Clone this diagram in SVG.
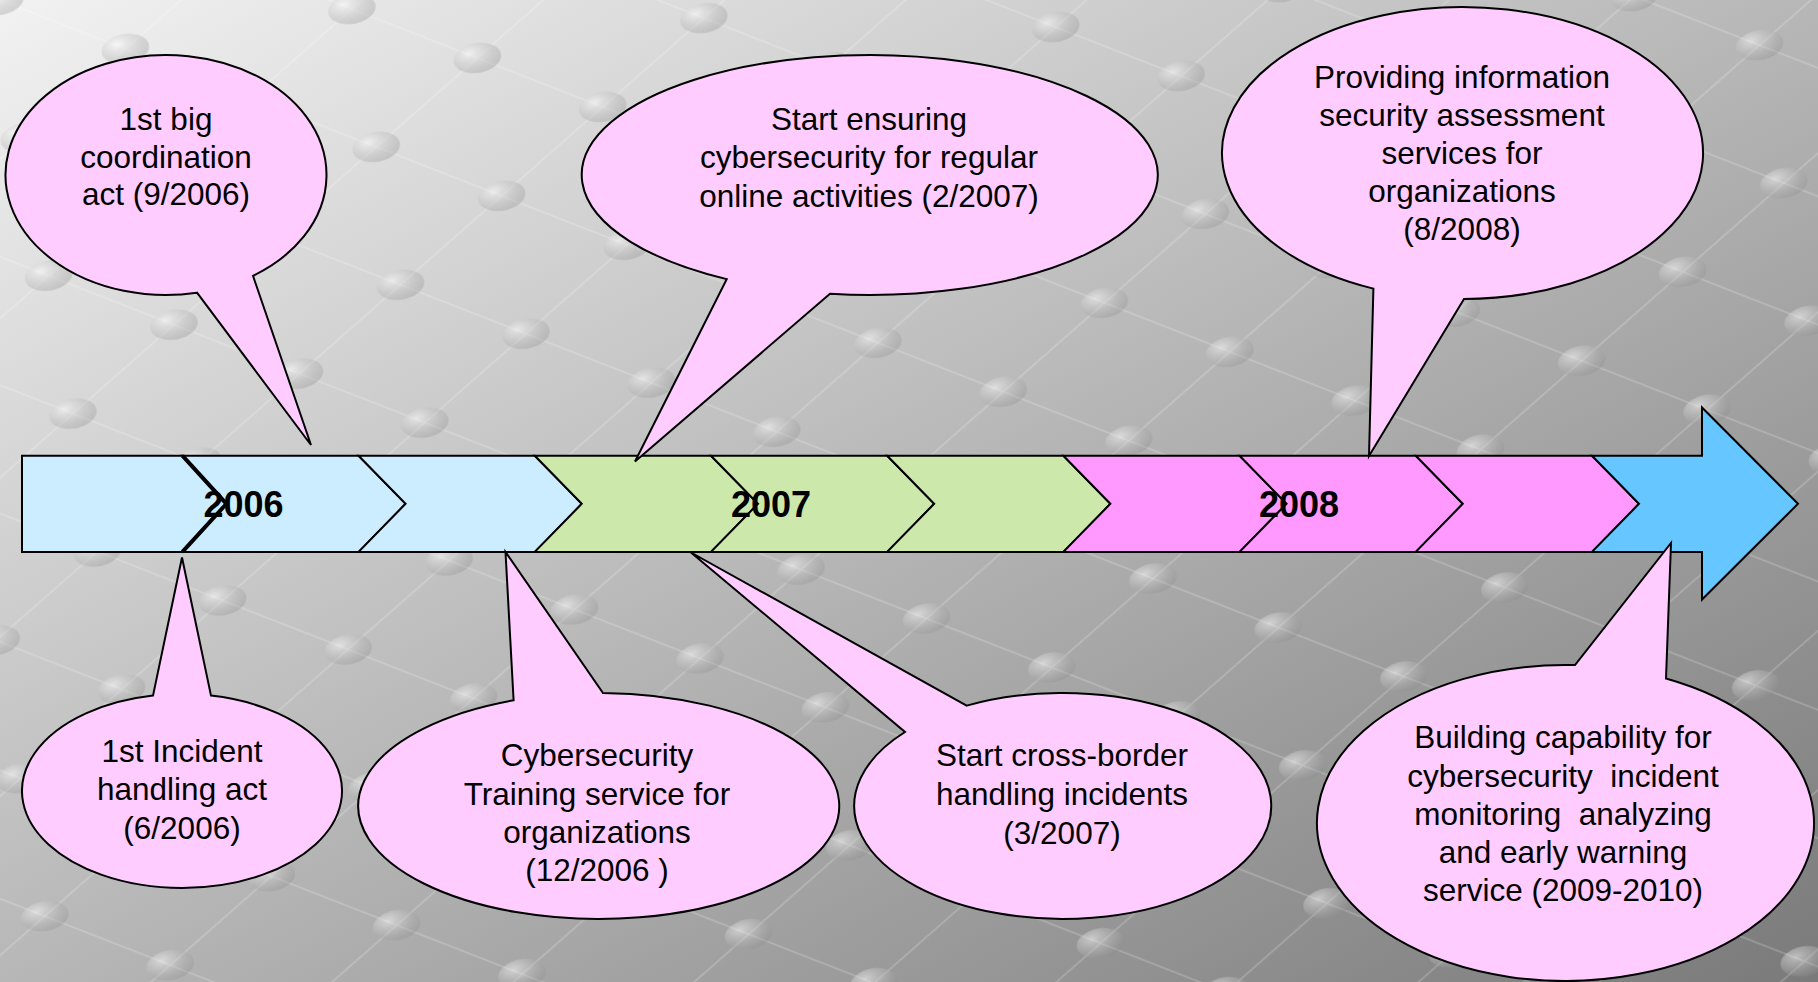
<svg xmlns="http://www.w3.org/2000/svg" width="1818" height="982" viewBox="0 0 1818 982">
  <defs>
    <linearGradient id="bg" x1="0" y1="0" x2="1" y2="1">
      <stop offset="0" stop-color="#f2f2f2"/>
      <stop offset="0.45" stop-color="#bdbdbd"/>
      <stop offset="1" stop-color="#7a7a7a"/>
    </linearGradient>
    <radialGradient id="dot" cx="0.35" cy="0.3" r="0.8">
      <stop offset="0" stop-color="#ffffff" stop-opacity="0.5"/>
      <stop offset="1" stop-color="#808080" stop-opacity="0.3"/>
    </radialGradient>
    <pattern id="lattice" patternUnits="userSpaceOnUse" width="230" height="140" patternTransform="rotate(-10)">
      <g stroke="#ffffff" stroke-opacity="0.22" stroke-width="1.5" fill="none">
        <line x1="0" y1="0" x2="230" y2="140"/>
        <line x1="230" y1="0" x2="0" y2="140"/>
      </g>
      <g fill="url(#dot)">
        <ellipse cx="0" cy="0" rx="24" ry="15"/>
        <ellipse cx="230" cy="0" rx="24" ry="15"/>
        <ellipse cx="0" cy="140" rx="24" ry="15"/>
        <ellipse cx="230" cy="140" rx="24" ry="15"/>
        <ellipse cx="115" cy="70" rx="24" ry="15"/>
      </g>
    </pattern>
  </defs>
  <style>
    .seg { stroke:#000; stroke-width:2; stroke-linejoin:miter; }
    .b06 { fill:#CCECFF; }
    .g07 { fill:#CCE8AA; }
    .p08 { fill:#FF99FF; }
    .arr { fill:#66C6FF; }
    .cl { fill:#FFCCFF; stroke:#000; stroke-width:2; stroke-linejoin:miter; }
    .t { font-family:"Liberation Sans", Arial, sans-serif; font-size:31.5px; fill:#000; text-anchor:middle; white-space:pre; }
    .yr { font-family:"Liberation Sans", Arial, sans-serif; font-size:36px; font-weight:bold; fill:#000; text-anchor:middle; }
  </style>

  <g id="background">
    <rect x="0" y="0" width="1818" height="982" fill="url(#bg)"/>
    <rect x="0" y="0" width="1818" height="982" fill="url(#lattice)"/>
  </g>

  <g id="timeline">
    <polygon id="seg0" class="seg b06" points="22,455.7 182.4,455.7 226.4,503.8 182.4,551.9 22,551.9"/>
    <polygon id="seg1" class="seg b06" points="182.4,455.7 358.6,455.7 405.6,503.8 358.6,551.9 182.4,551.9 226.4,503.8"/>
    <polygon id="seg2" class="seg b06" points="358.6,455.7 534.8,455.7 581.8,503.8 534.8,551.9 358.6,551.9 405.6,503.8"/>
    <polygon id="seg3" class="seg g07" points="534.8,455.7 711,455.7 758,503.8 711,551.9 534.8,551.9 581.8,503.8"/>
    <polygon id="seg4" class="seg g07" points="711,455.7 887.2,455.7 934.2,503.8 887.2,551.9 711,551.9 758,503.8"/>
    <polygon id="seg5" class="seg g07" points="887.2,455.7 1063.4,455.7 1110.4,503.8 1063.4,551.9 887.2,551.9 934.2,503.8"/>
    <polygon id="seg6" class="seg p08" points="1063.4,455.7 1239.6,455.7 1286.6,503.8 1239.6,551.9 1063.4,551.9 1110.4,503.8"/>
    <polygon id="seg7" class="seg p08" points="1239.6,455.7 1415.8,455.7 1462.8,503.8 1415.8,551.9 1239.6,551.9 1286.6,503.8"/>
    <polygon id="seg8" class="seg p08" points="1415.8,455.7 1592,455.7 1639,503.8 1592,551.9 1415.8,551.9 1462.8,503.8"/>
    <polygon id="arrowhead" class="seg arr" points="1592,455.7 1702,455.7 1702,407.5 1798,503.8 1702,599.5 1702,551.9 1592,551.9 1639,503.8"/>
    <polyline points="182.4,455.7 226.4,503.8 182.4,551.9" fill="none" stroke="#000" stroke-width="4"/>
    <text class="yr" x="243.5" y="517">2006</text>
    <text class="yr" x="771" y="517">2007</text>
    <text class="yr" x="1299" y="517">2008</text>
  </g>

  <g id="connectors"></g>

  <g id="callout-coordination">
    <path class="cl" d="M 253,275.8 A 160.5 120 0 1 0 197,292.7 L 311,445 Z"/>
    <text class="t" x="166" y="130">1st big</text>
    <text class="t" x="166" y="167.5">coordination</text>
    <text class="t" x="166" y="205">act (9/2006)</text>
  </g>

  <g id="callout-online">
    <path class="cl" d="M 830,293.8 A 288 120 0 1 0 726.7,279.1 L 635,461.5 Z"/>
    <text class="t" x="869" y="130">Start ensuring</text>
    <text class="t" x="869" y="168">cybersecurity for regular</text>
    <text class="t" x="869" y="206.5">online activities (2/2007)</text>
  </g>

  <g id="callout-assessment">
    <path class="cl" d="M 1464,299 A 240.5 146 0 1 0 1373.4,288.6 L 1369,456 Z"/>
    <text class="t" x="1462" y="88">Providing information</text>
    <text class="t" x="1462" y="126">security assessment</text>
    <text class="t" x="1462" y="164">services for</text>
    <text class="t" x="1462" y="202">organizations</text>
    <text class="t" x="1462" y="240">(8/2008)</text>
  </g>

  <g id="callout-incident">
    <path class="cl" d="M 211,695.6 A 160 97 0 1 1 153,695.6 L 182,557.5 Z"/>
    <text class="t" x="182" y="761.5">1st Incident</text>
    <text class="t" x="182" y="800">handling act</text>
    <text class="t" x="182" y="838.5">(6/2006)</text>
  </g>

  <g id="callout-training">
    <path class="cl" d="M 603,693 A 240.5 113 0 1 1 513.6,700.3 L 505.5,552 Z"/>
    <text class="t" x="597" y="766">Cybersecurity</text>
    <text class="t" x="597" y="804.5">Training service for</text>
    <text class="t" x="597" y="843">organizations</text>
    <text class="t" x="597" y="881">(12/2006 )</text>
  </g>

  <g id="callout-crossborder">
    <path class="cl" d="M 966.7,705.6 A 208.5 113 0 1 1 905,732 L 691,552.5 Z"/>
    <text class="t" x="1062" y="766">Start cross-border</text>
    <text class="t" x="1062" y="805">handling incidents</text>
    <text class="t" x="1062" y="844">(3/2007)</text>
  </g>

  <g id="callout-monitoring">
    <path class="cl" d="M 1666,678.5 A 248.5 158 0 1 1 1575,665.1 L 1671,543 Z"/>
    <text class="t" x="1563" y="748">Building capability for</text>
    <text class="t" x="1563" y="786.5">cybersecurity  incident</text>
    <text class="t" x="1563" y="825">monitoring  analyzing</text>
    <text class="t" x="1563" y="863">and early warning</text>
    <text class="t" x="1563" y="901">service (2009-2010)</text>
  </g>
</svg>
